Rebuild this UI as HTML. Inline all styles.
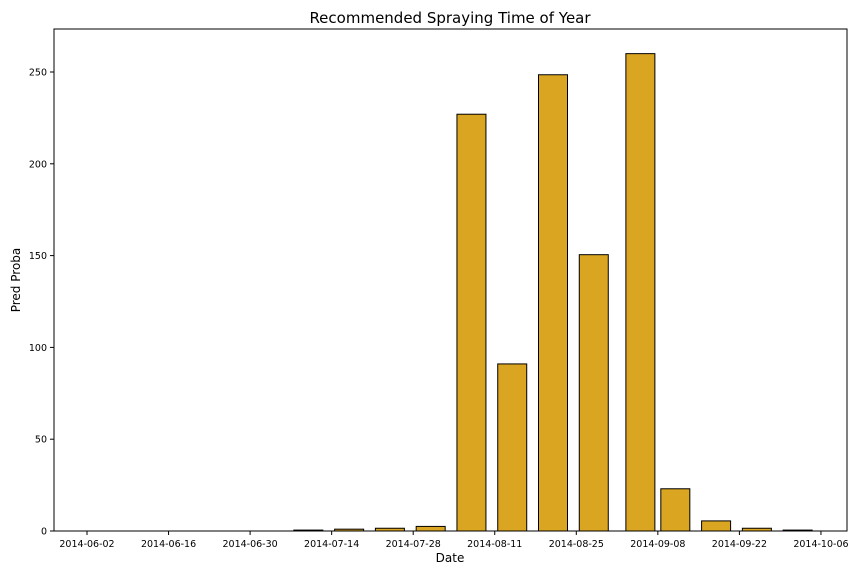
<!DOCTYPE html>
<html><head><meta charset="utf-8"><style>
body{margin:0;background:#fff;}
svg text{font-family:"DejaVu Sans","Liberation Sans",sans-serif;}
</style></head><body>
<svg width="864" height="576" xmlns="http://www.w3.org/2000/svg">
<text x="450" y="23" font-size="15" text-anchor="middle">Recommended Spraying Time of Year</text>
<g id="plot"></g>
<rect x="54" y="29" width="793" height="502" fill="none" stroke="#000" stroke-width="1"/>
<text x="450" y="562" font-size="12" text-anchor="middle">Date</text>
<text transform="translate(20,280) rotate(-90)" font-size="12" text-anchor="middle">Pred Proba</text>
</svg>
<script>
const barDates=["2014-07-10","2014-07-17","2014-07-24","2014-07-31","2014-08-07","2014-08-14","2014-08-21","2014-08-28","2014-09-05","2014-09-11","2014-09-18","2014-09-25","2014-10-02"];
const barValues=[0.5,1,1.5,2.5,227,91,248.5,150.5,260,23,5.5,1.5,0.5];
const xTickLabels=["2014-06-02","2014-06-16","2014-06-30","2014-07-14","2014-07-28","2014-08-11","2014-08-25","2014-09-08","2014-09-22","2014-10-06"];
const yTicks=[0,50,100,150,200,250];
const NS="http://www.w3.org/2000/svg";
const base=Date.UTC(2014,5,2);
function days(s){const p=s.split('-');return (Date.UTC(+p[0],+p[1]-1,+p[2])-base)/86400000;}
function x(s){return 87+days(s)*5.825;}
function y(v){return 531-v*1.836;}
const g=document.getElementById('plot');
function mk(t,a){const e=document.createElementNS(NS,t);for(const k in a)e.setAttribute(k,a[k]);g.appendChild(e);return e;}
barDates.forEach((d,i)=>{
  const cx=x(d),v=barValues[i];
  const r=mk('rect',{x:cx-14.5,y:y(v),width:29,height:531-y(v),fill:'#daa520',stroke:'#000','stroke-width':1});
  
  
});
xTickLabels.forEach(d=>{
  const tx=x(d);
  const l=mk('line',{x1:tx,x2:tx,y1:531,y2:535,stroke:'#000'});
  
  
  const t=mk('text',{x:tx,y:547,'font-size':9.5,'text-anchor':'middle'});
  t.textContent=d;
  
  
});
yTicks.forEach(v=>{
  const ty=y(v);
  const l=mk('line',{x1:50,x2:54,y1:ty,y2:ty,stroke:'#000'});
  
  
  const t=mk('text',{x:47,y:ty+3.5,'font-size':9.5,'text-anchor':'end'});
  t.textContent=v;
  
  
});
</script>
</body></html>
